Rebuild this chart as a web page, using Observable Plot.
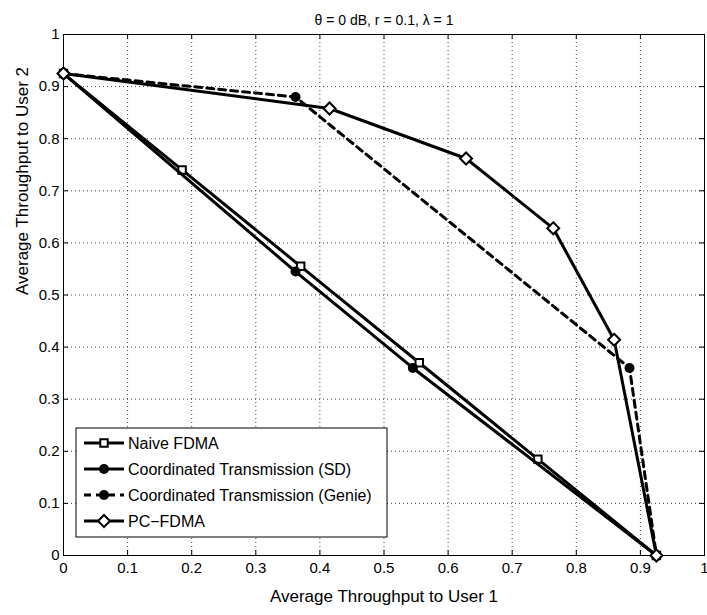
<!DOCTYPE html>
<html>
<head>
<meta charset="utf-8">
<script src="https://cdn.jsdelivr.net/npm/d3@7"></script>
<script src="https://cdn.jsdelivr.net/npm/@observablehq/plot@0.6"></script>
<style>
  html, body { margin: 0; padding: 0; background: white; }
  svg g[aria-label="x-axis tick label"], svg g[aria-label="y-axis tick label"],
  svg g[aria-label="x-axis tick label"] text, svg g[aria-label="y-axis tick label"] text {
    font-size: 15px !important;
  }
</style>
</head>
<body>
<div id="chart"></div>
<script>
// ---- data ----
const naiveX = [0, 0.185, 0.37, 0.555, 0.74, 0.925];
const naiveY = [0.925, 0.74, 0.555, 0.37, 0.185, 0];

const sdX = [0, 0.362, 0.545, 0.925];
const sdY = [0.925, 0.545, 0.36, 0];

const genieX = [0, 0.362, 0.883, 0.925];
const genieY = [0.925, 0.88, 0.36, 0];

const pcX = [0, 0.415, 0.628, 0.764, 0.859, 0.925];
const pcY = [0.925, 0.858, 0.762, 0.628, 0.414, 0];

const tickValues = [0, 0.1, 0.2, 0.3, 0.4, 0.5, 0.6, 0.7, 0.8, 0.9, 1];
const tickLabels = ["0", "0.1", "0.2", "0.3", "0.4", "0.5", "0.6", "0.7", "0.8", "0.9", "1"];

const seriesNames = ["Naive FDMA", "Coordinated Transmission (SD)", "Coordinated Transmission (Genie)", "PC\u2212FDMA"];
const titleText = "\u03b8 = 0 dB, r = 0.1, \u03bb = 1";
const xTitle = "Average Throughput to User 1";
const yTitle = "Average Throughput to User 2";

// ---- build ----
const toPts = (xs, ys) => xs.map((x, i) => ({x, y: ys[i]}));
const naive = toPts(naiveX, naiveY);
const sd = toPts(sdX, sdY);
const genie = toPts(genieX, genieY);
const pc = toPts(pcX, pcY);

const W = 707, H = 615, mL = 63, mR = 3, mT = 34, mB = 60;
const frameH = H - mT - mB;
const frameW = W - mL - mR;
const font = "'Liberation Sans', Arial, Helvetica, sans-serif";
const fmt = d => tickLabels[tickValues.indexOf(d)];

const chart = Plot.plot({
  width: W, height: H,
  marginLeft: mL, marginRight: mR, marginTop: mT, marginBottom: mB,
  x: {domain: [0, 1]},
  y: {domain: [0, 1]},
  style: {fontFamily: font, fontSize: "14px", background: "white", color: "black", overflow: "visible"},
  marks: [
    Plot.gridX(tickValues.slice(1, -1), {stroke: "#000", strokeOpacity: 0.8, strokeWidth: 0.9, strokeDasharray: "1,3"}),
    Plot.gridY(tickValues.slice(1, -1), {stroke: "#000", strokeOpacity: 0.8, strokeWidth: 0.9, strokeDasharray: "1,3"}),
    // inward ticks on all four sides
    Plot.tickX(tickValues, {x: d => d, insetTop: frameH - 5, stroke: "#000", strokeWidth: 1}),
    Plot.tickX(tickValues, {x: d => d, insetBottom: frameH - 5, stroke: "#000", strokeWidth: 1}),
    Plot.tickY(tickValues, {y: d => d, insetRight: frameW - 5, stroke: "#000", strokeWidth: 1}),
    Plot.tickY(tickValues, {y: d => d, insetLeft: frameW - 5, stroke: "#000", strokeWidth: 1}),
    Plot.axisX(tickValues, {tickSize: 0, tickPadding: 7, tickFormat: fmt, label: null, fontSize: 15}),
    Plot.axisY(tickValues, {tickSize: 0, tickPadding: 4, tickFormat: fmt, label: null, fontSize: 15}),
    Plot.frame({stroke: "#000", strokeWidth: 1}),

    // series
    Plot.line(naive, {x: "x", y: "y", stroke: "#000", strokeWidth: 3}),
    Plot.dot(naive, {x: "x", y: "y", symbol: "square", r: 4.2, fill: "white", stroke: "#000", strokeWidth: 2}),
    Plot.line(sd, {x: "x", y: "y", stroke: "#000", strokeWidth: 3}),
    Plot.dot(sd, {x: "x", y: "y", symbol: "circle", r: 5, fill: "#000", stroke: "none"}),
    Plot.line(genie, {x: "x", y: "y", stroke: "#000", strokeWidth: 3, strokeDasharray: "7,5"}),
    Plot.dot(genie, {x: "x", y: "y", symbol: "circle", r: 5, fill: "#000", stroke: "none"}),
    Plot.line(pc, {x: "x", y: "y", stroke: "#000", strokeWidth: 3}),
    Plot.dot(pc, {x: "x", y: "y", symbol: "diamond2", r: 5.4, fill: "white", stroke: "#000", strokeWidth: 2}),

    // titles
    Plot.text([titleText], {frameAnchor: "top", dy: -19, fontSize: 14, fill: "#000"}),
    Plot.text([xTitle], {frameAnchor: "bottom", dy: 46, fontSize: 17, fill: "#000"}),
    Plot.text([yTitle], {frameAnchor: "left", dx: -41, rotate: -90, fontSize: 17, fill: "#000"})
  ]
});

const svg = d3.select(chart);

// ---- legend ----
const lg = svg.append("g").attr("font-family", font).attr("font-size", 16).attr("text-anchor", "start");
const bx = 76, by = 428, bw = 311, bh = 109;
lg.append("rect").attr("x", bx).attr("y", by).attr("width", bw).attr("height", bh)
  .attr("fill", "white").attr("stroke", "#000").attr("stroke-width", 1);
const styles = [
  {dash: null, sym: d3.symbolSquare, size: 4.2 * 4.2 * Math.PI, fill: "white", sw: 2},
  {dash: null, sym: d3.symbolCircle, size: 25 * Math.PI, fill: "#000", sw: 0},
  {dash: "7,5", sym: d3.symbolCircle, size: 25 * Math.PI, fill: "#000", sw: 0},
  {dash: null, sym: d3.symbolDiamond2, size: 5.4 * 5.4 * Math.PI, fill: "white", sw: 2}
];
seriesNames.forEach((name, i) => {
  const yy = by + 15 + i * 26;
  const st = styles[i];
  lg.append("line").attr("x1", 84).attr("x2", 124).attr("y1", yy).attr("y2", yy)
    .attr("stroke", "#000").attr("stroke-width", 3)
    .attr("stroke-dasharray", st.dash);
  lg.append("path").attr("d", d3.symbol(st.sym, st.size)())
    .attr("transform", `translate(104,${yy})`)
    .attr("fill", st.fill).attr("stroke", st.sw ? "#000" : "none").attr("stroke-width", st.sw);
  lg.append("text").attr("x", 128).attr("y", yy).attr("dy", "0.35em").attr("fill", "#000")
    .attr("text-anchor", "start").text(name);
});

document.getElementById("chart").appendChild(chart);
</script>
</body>
</html>
